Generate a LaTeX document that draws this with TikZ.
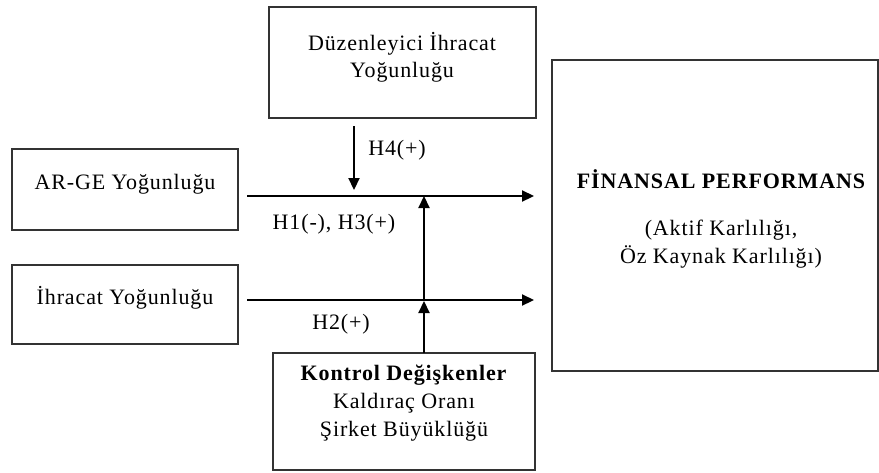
\documentclass[tikz,border=0pt]{standalone}
\usepackage{fontspec}
\setmainfont{Liberation Serif}[LetterSpace=4]
\usetikzlibrary{arrows.meta}
\begin{document}
\begin{tikzpicture}[x=1pt,y=-1pt,
  box/.style={draw=black!80, line width=2pt, inner sep=0pt},
  txt/.style={inner sep=0pt, align=center, font=\fontsize{22}{27}\selectfont},
  lbl/.style={inner sep=0pt, font=\fontsize{22}{27}\selectfont},
  conn/.style={line width=2.2pt, -{Triangle[length=12pt,width=11pt]}}]
\useasboundingbox (0,0) rectangle (879,472);
% boxes
\node[box, minimum width=267, minimum height=111] (reg) at (402.5,62.5) {};
\node[box, minimum width=326, minimum height=311] (fin) at (715,215.5) {};
\node[box, minimum width=226, minimum height=81] (arge) at (125,189.5) {};
\node[box, minimum width=226, minimum height=79] (ihr) at (125,304.5) {};
\node[box, minimum width=262, minimum height=117] (ctrl) at (404,411.5) {};
% texts
\node[txt] (regt) at (402,57) {Düzenleyici İhracat\\Yoğunluğu};
\node[txt] (argt) at (125,184) {AR-GE Yoğunluğu};
\node[txt] (ihrt) at (125,298) {İhracat Yoğunluğu};
\node[txt, font=\fontsize{22}{27}\selectfont\bfseries] (fint) at (721,179) {FİNANSAL PERFORMANS};
\node[txt, font=\fontsize{22}{28}\selectfont] (fins) at (721,244) {(Aktif Karlılığı,\\Öz Kaynak Karlılığı)};
\node[txt, font=\fontsize{22}{28}\selectfont] (ctrlt) at (404,403) {\textbf{Kontrol Değişkenler}\\Kaldıraç Oranı\\Şirket Büyüklüğü};
% labels
\node[lbl] (h4) at (397,150) {H4(+)};
\node[lbl] (h13) at (334,224) {H1(-), H3(+)};
\node[lbl] (h2) at (341,324) {H2(+)};
% connector points
\coordinate (a1) at (247,196);
\coordinate (a2) at (534,196);
\coordinate (b1) at (247,300);
\coordinate (b2) at (534,300);
\coordinate (m1) at (354,126);
\coordinate (m2) at (354,190);
\coordinate (v0) at (424,353);
\coordinate (v1) at (424,301);
\coordinate (v2) at (424,196);
% connectors
\draw[conn] (a1) -- (a2);
\draw[conn] (b1) -- (b2);
\draw[conn] (m1) -- (m2);
\draw[conn] (v0) -- (v1);
\draw[conn] (v1) -- (v2);
\end{tikzpicture}
\end{document}
